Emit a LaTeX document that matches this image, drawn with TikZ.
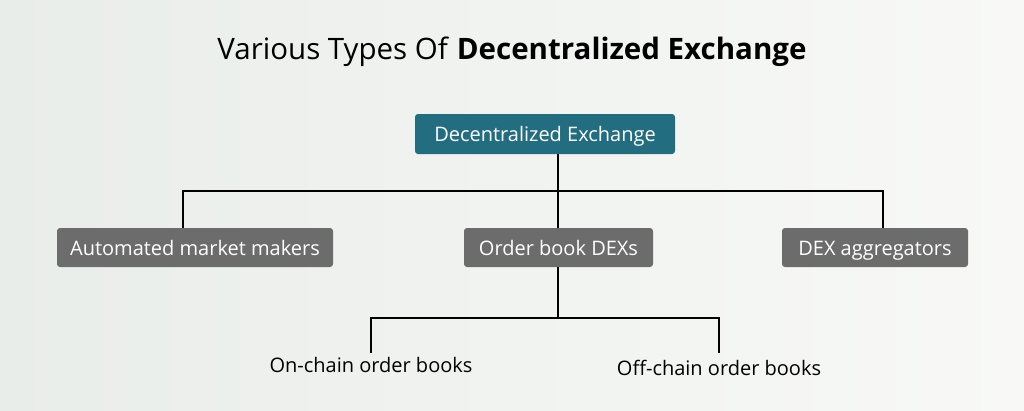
\documentclass[tikz,border=0pt]{standalone}
\usepackage{fontspec}
\setmainfont{Open Sans}
\definecolor{dexteal}{HTML}{226E80}
\definecolor{dexgray}{HTML}{6C6C6C}
\definecolor{bgleft}{HTML}{E9EDEA}
\definecolor{bgright}{HTML}{F8F9F6}

\begin{document}
\begin{tikzpicture}[x=1pt, y=-1pt,
    topbox/.style={fill=dexteal, text=white, rounded corners=3pt, minimum height=40pt, inner sep=0pt, text height=16pt, text depth=1pt, font=\fontsize{20}{22}\selectfont},
    typebox/.style={fill=dexgray, text=white, rounded corners=3pt, minimum height=39pt, inner sep=0pt, text height=16pt, text depth=1pt, font=\fontsize{20}{22}\selectfont},
    leaf/.style={inner sep=0pt, font=\fontsize{20}{22}\selectfont},
    link/.style={line width=1.2pt, black}]
    % background
    \shade [left color=bgleft, right color=bgright] (0,0) rectangle (1024,410) ;
    \useasboundingbox (0,0) rectangle (1024,410) ;

    \node (title) at (512,52) {\fontsize{29.5}{33}\selectfont Various Types Of \textbf{Decentralized Exchange}} ;

    \node [topbox, minimum width=260pt] (dex) at (545,134) {Decentralized Exchange} ;
    \node [typebox, minimum width=276pt] (amm) at (195,247.5) {Automated market makers} ;
    \node [typebox, minimum width=189pt] (obook) at (558.5,247.5) {Order book DEXs} ;
    \node [typebox, minimum width=186pt] (agg) at (875,247.5) {DEX aggregators} ;

    \node [leaf] (onchain) at (371,365) {On-chain order books} ;
    \node [leaf] (offchain) at (719,368) {Off-chain order books} ;

    \coordinate (hub) at (558,191) ;
    \coordinate (subhub) at (558,318) ;
    \coordinate (onend) at (371,353) ;
    \coordinate (offend) at (719,353) ;

    \draw [link] (dex.south -| hub) -- (hub) ;
    \draw [link] (hub) -| ([xshift=-12pt]amm.north) ;
    \draw [link] (hub) -- (obook.north -| hub) ;
    \draw [link] (hub) -| ([xshift=8pt]agg.north) ;

    \draw [link] (obook.south -| subhub) -- (subhub) ;
    \draw [link] (subhub) -| (onend) ;
    \draw [link] (subhub) -| (offend) ;
\end{tikzpicture}
\end{document}
